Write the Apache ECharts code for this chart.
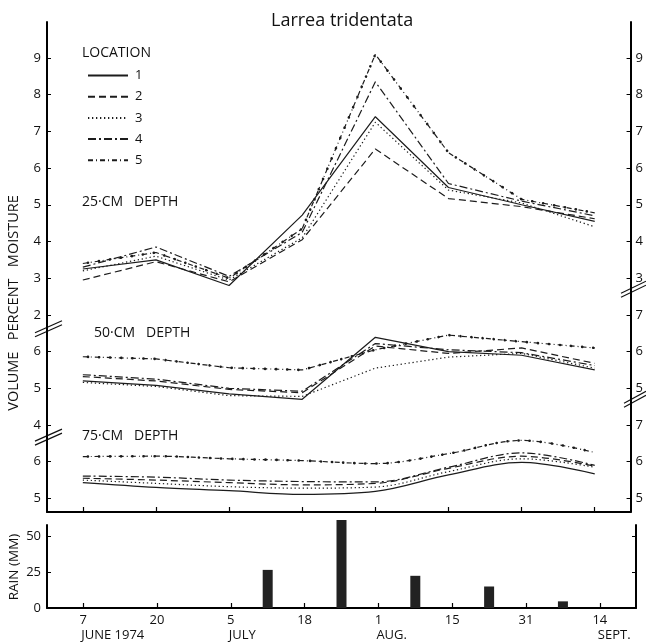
<!DOCTYPE html>
<html><head><meta charset="utf-8">
<script src="https://cdn.jsdelivr.net/npm/echarts@6/dist/echarts.min.js"></script>
<style>html,body{margin:0;padding:0;background:#fff}#c{width:646px;height:644px}</style>
</head><body><div id="c"></div>
<script>
// ---- sampling dates (evenly spaced on the chart) ----
const dayLabels = ['7', '20', '5', '18', '1', '15', '31', '14'];
const monthLabels = ['JUNE 1974', '', 'JULY', '', 'AUG.', '', '', 'SEPT.'];
const locations = ['1', '2', '3', '4', '5'];

// ---- 25-cm depth, volume percent moisture ----
const loc1_25 = [3.25, 3.50, 2.80, 4.72, 7.40, 5.47, 5.00, 4.55];
const loc2_25 = [2.95, 3.45, 2.90, 4.05, 6.52, 5.17, 4.95, 4.62];
const loc3_25 = [3.20, 3.60, 2.95, 4.10, 7.25, 5.40, 5.05, 4.40];
const loc4_25 = [3.30, 3.85, 3.05, 4.25, 8.35, 5.58, 5.10, 4.70];
const loc5_25 = [3.40, 3.70, 3.00, 4.35, 9.10, 6.42, 5.15, 4.78];

// ---- 50-cm depth ----
const loc1_50 = [5.20, 5.08, 4.85, 4.70, 6.39, 6.00, 5.90, 5.50];
const loc2_50 = [5.32, 5.20, 4.97, 4.88, 6.15, 5.95, 6.10, 5.68];
const loc3_50 = [5.16, 5.05, 4.80, 4.78, 5.55, 5.85, 5.95, 5.55];
const loc4_50 = [5.37, 5.25, 5.00, 4.92, 6.22, 6.05, 5.97, 5.62];
const loc5_50 = [5.86, 5.80, 5.56, 5.50, 6.05, 6.45, 6.27, 6.10];

// ---- 75-cm depth ----
const loc1_75 = [5.43, 5.30, 5.21, 5.11, 5.19, 5.64, 5.98, 5.67];
const loc2_75 = [5.55, 5.50, 5.43, 5.37, 5.41, 5.82, 6.15, 5.88];
const loc3_75 = [5.50, 5.41, 5.32, 5.28, 5.31, 5.73, 6.08, 5.85];
const loc4_75 = [5.61, 5.58, 5.50, 5.46, 5.45, 5.85, 6.24, 5.90];
const loc5_75 = [6.14, 6.15, 6.08, 6.03, 5.95, 6.22, 6.58, 6.25];

// ---- rain (mm), falling between sampling dates ----
const rainPos = [2.5, 3.5, 4.5, 5.5, 6.5];
const rainMM = [26.4, 60.9, 22.3, 14.9, 4.6];

// ---- tick values ----
const moistTicks = [-3, -2, -1, 0, 1, 2, 3, 4, 5, 6, 7, 8, 9];
const rainTicks = [0, 25, 50];
const dateTicks = [0, 1, 2, 3, 4, 5, 6, 7];

// depth panels share one stacked axis; each panel shifted by a whole number
const panels = [
  { offset: 0, rows: [loc1_25, loc2_25, loc3_25, loc4_25, loc5_25], smooth: false },
  { offset: -5, rows: [loc1_50, loc2_50, loc3_50, loc4_50, loc5_50], smooth: false },
  { offset: -8, rows: [loc1_75, loc2_75, loc3_75, loc4_75, loc5_75], smooth: 0.35 }
];
const leftLabel = g => g >= 2 ? g : (g >= -1 ? g + 5 : g + 8);
const rightLabel = g => g >= 3 ? g : (g >= 0 ? g + 5 : g + 8);

const INK = '#1c1c1c';
const dash = [
  'solid',
  [7, 4],
  [1.3, 2.7],
  [8, 3, 2, 3],
  [5, 3, 1, 3]
];
const FONT = 'Open Sans';

const series = [];
panels.forEach(p => {
  p.rows.forEach((arr, k) => {
    const data = arr.map((v, i) => [i, +(v + p.offset).toFixed(3)]);
    series.push({
      type: 'line', name: locations[k], data, xAxisIndex: 0, yAxisIndex: 0,
      symbol: 'none', smooth: p.smooth, z: 3, color: INK,
      itemStyle: { color: INK },
      lineStyle: { color: INK, width: 1.2, type: dash[k] }
    });
    if (k === 4) {
      series.push({
        type: 'line', name: 'dots5', data, xAxisIndex: 0, yAxisIndex: 0,
        symbol: 'none', smooth: p.smooth, silent: true, z: 4, color: INK,
        lineStyle: { color: INK, width: 2.6, type: [0.1, 11], cap: 'round', dashOffset: 6 }
      });
    }
  });
});
series.push({
  type: 'bar', name: 'rain', xAxisIndex: 1, yAxisIndex: 2, barWidth: 10, clip: false,
  data: rainPos.map((x, i) => [x, rainMM[i]]),
  itemStyle: { color: '#222' }
});

const axisLineStyle = { color: '#000', width: 2 };
const xMin = -0.49, xMax = 7.49;

const option = {
  animation: false,
  backgroundColor: '#fff',
  title: {
    text: 'Larrea tridentata', left: 266, top: 7,
    textStyle: { fontFamily: FONT, fontSize: 18, fontWeight: 'normal', color: '#111' }
  },
  legend: {
    data: locations, orient: 'vertical', left: 82, top: 64,
    itemWidth: 40, itemHeight: 14, itemGap: 8.2,
    itemStyle: { color: 'rgba(0,0,0,0)', borderWidth: 0, opacity: 0 },
    textStyle: { fontFamily: FONT, fontSize: 13, color: '#111', padding: [0, 0, 0, 2] }
  },
  grid: [
    { left: 47, right: 10, top: 22, height: 490 },
    { left: 47, right: 10, top: 525, height: 83 }
  ],
  xAxis: [
    {
      type: 'value', gridIndex: 0, min: xMin, max: xMax, position: 'bottom',
      axisLine: { onZero: false, lineStyle: axisLineStyle },
      axisTick: { inside: true, length: 5, customValues: dateTicks, lineStyle: { color: '#000', width: 1.2 } },
      axisLabel: { show: false }, splitLine: { show: false }
    },
    {
      type: 'value', gridIndex: 1, min: xMin, max: xMax, position: 'bottom',
      axisLine: { onZero: false, lineStyle: axisLineStyle },
      axisTick: { inside: true, length: 5, customValues: dateTicks, lineStyle: { color: '#000', width: 1.2 } },
      axisLabel: {
        customValues: dateTicks, formatter: v => dayLabels[Math.round(v)] || '',
        margin: 6, fontFamily: FONT, fontSize: 13, color: '#111', showMinLabel: true, showMaxLabel: true
      },
      splitLine: { show: false }
    },
    {
      type: 'value', gridIndex: 1, min: xMin, max: xMax, position: 'bottom',
      axisLine: { show: false, onZero: false }, axisTick: { show: false }, splitLine: { show: false },
      axisLabel: {
        customValues: [0, 2, 4, 7], formatter: v => monthLabels[Math.round(v)] || '',
        margin: 21, align: 'left', fontFamily: FONT, fontSize: 13, color: '#111',
        padding: [0, 0, 0, -2]
      }
    }
  ],
  yAxis: [
    {
      type: 'value', gridIndex: 0, min: -3.37, max: 9.98, position: 'left',
      axisLine: { show: true, onZero: false, lineStyle: axisLineStyle },
      axisTick: { show: true, inside: true, length: 4, customValues: moistTicks, lineStyle: { color: '#000' } },
      axisLabel: { customValues: moistTicks, formatter: v => String(leftLabel(v)), margin: 6,
        fontFamily: FONT, fontSize: 13, color: '#111' },
      splitLine: { show: false }
    },
    {
      type: 'value', gridIndex: 0, min: -3.37, max: 9.98, position: 'right',
      axisLine: { show: true, onZero: false, lineStyle: axisLineStyle },
      axisTick: { show: true, inside: true, length: 4, customValues: moistTicks, lineStyle: { color: '#000' } },
      axisLabel: { customValues: moistTicks, formatter: v => String(rightLabel(v)), margin: 5,
        fontFamily: FONT, fontSize: 13, color: '#111' },
      splitLine: { show: false }
    },
    {
      type: 'value', gridIndex: 1, min: 0, max: 57.5, position: 'left',
      axisLine: { show: true, onZero: false, lineStyle: axisLineStyle },
      axisTick: { show: true, inside: true, length: 4, customValues: rainTicks, lineStyle: { color: '#000' } },
      axisLabel: { customValues: rainTicks, margin: 6, fontFamily: FONT, fontSize: 13, color: '#111' },
      splitLine: { show: false }
    },
    {
      type: 'value', gridIndex: 1, min: 0, max: 57.5, position: 'right',
      axisLine: { show: true, onZero: false, lineStyle: axisLineStyle },
      axisTick: { show: true, inside: true, length: 4, customValues: [25, 50], lineStyle: { color: '#000' } },
      axisLabel: { show: false }, splitLine: { show: false }
    }
  ],
  series
};

const chart = echarts.init(document.getElementById('c'), null, { renderer: 'canvas' });
chart.setOption(option);

// decorations: labels and axis-break marks
const txt = (x, y, s, size, extra) => Object.assign({
  type: 'text', x, y,
  style: { text: s, fontFamily: FONT, fontSize: size, fill: '#111', textVerticalAlign: 'middle' }
}, extra || {});
const graphics = [
  txt(82, 53, 'LOCATION', 14),
  txt(82, 202, '25·CM   DEPTH', 14),
  txt(94, 333, '50·CM   DEPTH', 14),
  txt(82, 436, '75·CM   DEPTH', 14),
  { type: 'text', x: 14, y: 303, rotation: Math.PI / 2,
    style: { text: 'VOLUME   PERCENT   MOISTURE', fontFamily: FONT, fontSize: 14.5, fill: '#111',
      textAlign: 'center', textVerticalAlign: 'middle' } },
  { type: 'text', x: 14, y: 567, rotation: Math.PI / 2,
    style: { text: 'RAIN (MM)', fontFamily: FONT, fontSize: 13.5, fill: '#111',
      textAlign: 'center', textVerticalAlign: 'middle' } }
];
function breakMark(yAxisIndex, g, dxl, dxr) {
  const px = chart.convertToPixel({ yAxisIndex }, g);
  const ax = yAxisIndex === 0 ? 47 : 636;
  [-2, 2].forEach(d => {
    graphics.push({
      type: 'line', silent: true,
      shape: { x1: ax - dxl, y1: px + d + 6, x2: ax + dxr, y2: px + d - 6 },
      style: { stroke: '#111', lineWidth: 1.1 }
    });
  });
}
breakMark(0, 1.62, 12, 15);
breakMark(0, -1.33, 12, 15);
breakMark(1, 2.7, 15, 10);
breakMark(1, -0.3, 12, 10);
chart.setOption({ graphic: graphics });
</script>
</body></html>
